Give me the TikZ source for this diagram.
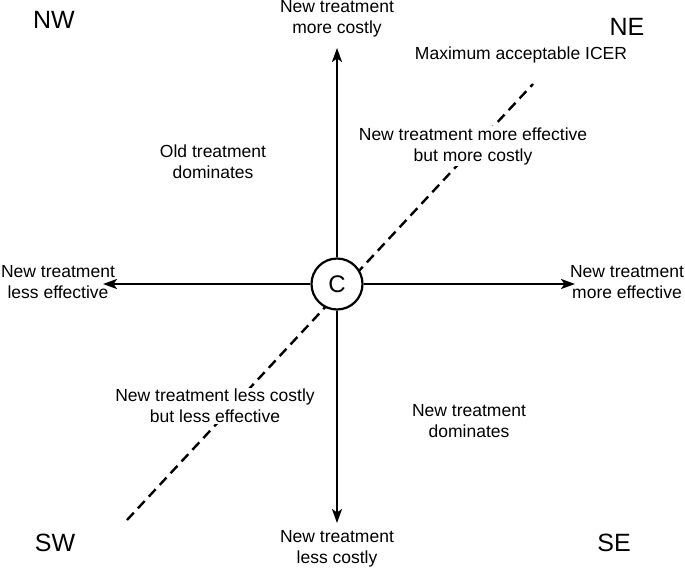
\documentclass[tikz,border=0pt]{standalone}
\usepackage{fontspec}
\setmainfont{Liberation Sans}
\usetikzlibrary{arrows.meta}
\begin{document}
\begin{tikzpicture}[x=1pt,y=-1pt,
  lbl/.style={align=center,font=\fontsize{17.5}{21}\selectfont,inner sep=1pt,fill=white},
  quad/.style={font=\fontsize{25}{30}\selectfont,inner sep=0pt},
  axis/.style={line width=2.2pt,-{Stealth[length=14pt,width=10pt,inset=3.5pt]}},
  icer/.style={line width=2.4pt,dash pattern=on 10pt off 6pt}]
\useasboundingbox (0,0) rectangle (685,568);
\coordinate (dl) at (127,520);
\coordinate (du) at (533,84);
\draw[icer] (dl) -- (du);
\node[circle,draw,line width=2.2pt,fill=white,minimum size=51pt,inner sep=0pt,font=\fontsize{24}{28}\selectfont] (c) at (337,284) {C};
\coordinate (up) at (337,48);
\coordinate (dn) at (337,523);
\coordinate (lt) at (103,284);
\coordinate (rt) at (575,284);
\draw[axis] (c) -- (up);
\draw[axis] (c) -- (dn);
\draw[axis] (c) -- (lt);
\draw[axis] (c) -- (rt);
\node[quad] (nw) at (54,20) {NW};
\node[quad] (ne) at (627,27) {NE};
\node[quad] (sw) at (55,543) {SW};
\node[quad] (se) at (614,543) {SE};
\node[lbl] (top) at (337,19) {New treatment\\more costly};
\node[lbl] (bot) at (337,549) {New treatment\\less costly};
\node[lbl,fill=none] (left) at (58,282) {New treatment\\less effective};
\node[lbl,fill=none] (right) at (627,282) {New treatment\\more effective};
\node[lbl] (max) at (521,55) {Maximum acceptable ICER};
\node[lbl] (old) at (213,162) {Old treatment\\dominates};
\node[lbl] (nemc) at (473,146) {New treatment more effective\\but more costly};
\node[lbl] (nelc) at (215,406) {New treatment less costly\\but less effective};
\node[lbl] (newdom) at (469,421) {New treatment\\dominates};
\end{tikzpicture}
\end{document}
